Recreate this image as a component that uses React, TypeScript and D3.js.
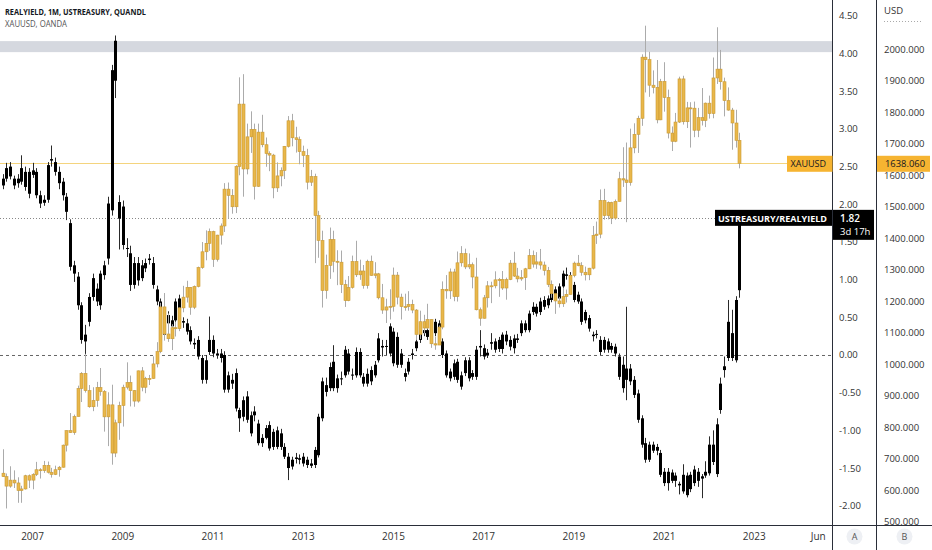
import React, { useEffect } from 'react';
import * as d3 from 'd3';

// first candle month (May 2006), monthly candles
const startYear = 2006;
const startMonth = 5;

// XAUUSD monthly [open, high, low, close]
const goldOHLC: number[][] = [
  // 2006 May-Dec
  [654,730,642,643],[643,653,542,613],[613,676,608,632],[632,663,607,623],[623,641,560,599],[599,614,560,604],[604,649,602,646],[646,650,607,632],
  // 2007
  [632,654,603,650],[650,690,645,665],[665,670,637,662],[662,693,655,679],[679,691,653,657],[657,671,640,650],[650,678,648,665],[665,677,643,673],[673,745,672,743],[743,790,723,789],[789,845,782,783],[783,840,776,834],
  // 2008
  [834,932,834,923],[923,975,880,971],[971,1033,910,916],[916,934,862,865],[865,927,851,885],[885,944,865,926],[926,988,900,913],[913,918,786,833],[833,911,740,871],[871,935,681,718],[718,824,705,814],[814,881,760,869],
  // 2009
  [869,935,802,927],[927,1006,920,942],[942,964,866,916],[916,918,865,883],[883,980,878,979],[979,991,914,927],[927,960,908,955],[955,966,934,955],[955,1025,954,1001],[1001,1070,990,1040],[1040,1195,1035,1182],[1182,1226,1075,1096],
  // 2010
  [1096,1161,1071,1081],[1081,1127,1045,1116],[1116,1135,1088,1113],[1113,1180,1105,1179],[1179,1249,1165,1213],[1213,1265,1196,1244],[1244,1245,1157,1181],[1181,1250,1175,1247],[1247,1310,1244,1307],[1307,1388,1303,1357],[1357,1425,1330,1384],[1384,1431,1360,1421],
  // 2011
  [1421,1424,1309,1333],[1333,1411,1326,1410],[1410,1447,1380,1439],[1439,1575,1420,1556],[1556,1577,1462,1536],[1536,1556,1478,1500],[1500,1632,1480,1628],[1628,1911,1600,1826],[1826,1921,1532,1620],[1620,1764,1603,1722],[1722,1803,1671,1746],[1746,1764,1523,1565],
  // 2012
  [1565,1764,1563,1737],[1737,1792,1689,1697],[1697,1720,1627,1669],[1669,1676,1613,1664],[1664,1668,1527,1560],[1560,1641,1547,1598],[1598,1625,1565,1615],[1615,1693,1588,1692],[1692,1788,1688,1773],[1773,1795,1692,1719],[1719,1754,1672,1713],[1713,1723,1635,1675],
  // 2013
  [1675,1694,1626,1663],[1663,1684,1555,1578],[1578,1617,1566,1596],[1596,1605,1321,1472],[1472,1487,1338,1393],[1393,1424,1180,1234],[1234,1348,1208,1314],[1314,1434,1271,1396],[1396,1424,1292,1327],[1327,1362,1251,1324],[1324,1361,1226,1253],[1253,1268,1182,1202],
  // 2014
  [1202,1280,1200,1244],[1244,1345,1240,1326],[1326,1392,1277,1284],[1284,1332,1268,1296],[1296,1315,1240,1250],[1250,1332,1240,1327],[1327,1345,1281,1282],[1282,1324,1273,1287],[1287,1290,1206,1211],[1211,1255,1160,1172],[1172,1208,1131,1182],[1182,1238,1142,1184],
  // 2015
  [1184,1307,1167,1283],[1283,1293,1190,1213],[1213,1224,1142,1183],[1183,1224,1170,1183],[1183,1232,1170,1190],[1190,1205,1162,1172],[1172,1175,1077,1095],[1095,1170,1080,1135],[1135,1157,1098,1115],[1115,1192,1111,1142],[1142,1143,1052,1065],[1065,1088,1046,1061],
  // 2016
  [1061,1123,1061,1118],[1118,1263,1111,1238],[1238,1283,1208,1233],[1233,1304,1207,1293],[1293,1303,1200,1215],[1215,1358,1199,1322],[1322,1375,1310,1351],[1351,1367,1302,1309],[1309,1352,1302,1316],[1316,1323,1241,1277],[1277,1338,1171,1173],[1173,1180,1122,1146],
  // 2017
  [1146,1220,1145,1211],[1211,1264,1180,1249],[1249,1262,1194,1249],[1249,1295,1241,1268],[1268,1274,1214,1269],[1269,1296,1236,1242],[1242,1275,1205,1269],[1269,1331,1267,1321],[1321,1357,1277,1280],[1280,1306,1260,1271],[1271,1299,1265,1275],[1275,1306,1236,1303],
  // 2018
  [1303,1366,1302,1345],[1345,1361,1307,1318],[1318,1356,1303,1325],[1325,1366,1301,1315],[1315,1326,1282,1298],[1298,1309,1245,1253],[1253,1266,1211,1224],[1224,1224,1160,1201],[1201,1214,1180,1192],[1192,1243,1182,1215],[1215,1237,1196,1222],[1222,1284,1221,1282],
  // 2019
  [1282,1326,1276,1321],[1321,1347,1311,1313],[1313,1324,1281,1292],[1292,1310,1266,1284],[1284,1306,1267,1305],[1305,1439,1301,1409],[1409,1453,1382,1413],[1413,1555,1400,1520],[1520,1557,1459,1472],[1472,1517,1460,1513],[1513,1516,1445,1464],[1464,1523,1459,1517],
  // 2020
  [1517,1611,1517,1589],[1589,1689,1563,1585],[1585,1704,1451,1577],[1577,1748,1567,1687],[1687,1765,1670,1730],[1730,1789,1671,1781],[1781,1984,1757,1975],[1975,2075,1863,1967],[1967,1992,1849,1886],[1886,1933,1860,1879],[1879,1966,1765,1776],[1776,1906,1775,1898],
  // 2021
  [1898,1959,1802,1847],[1847,1872,1717,1734],[1734,1755,1677,1708],[1708,1798,1705,1769],[1769,1913,1766,1906],[1906,1916,1761,1770],[1770,1833,1750,1814],[1814,1832,1688,1813],[1813,1834,1721,1743],[1743,1814,1721,1783],[1783,1877,1758,1774],[1774,1831,1753,1829],
  // 2022 Jan-Sep
  [1829,1853,1780,1796],[1796,1974,1781,1909],[1909,2070,1890,1937],[1937,1998,1872,1897],[1897,1910,1787,1837],[1837,1879,1805,1807],[1807,1814,1681,1766],[1766,1808,1688,1711],[1711,1735,1622,1638.06],
];

// USTREASURY/REALYIELD monthly [open, high, low, close]
const yieldOHLC: number[][] = [
  // 2006 May-Dec
  [2.25,2.40,2.20,2.34],[2.34,2.55,2.30,2.48],[2.50,2.56,2.33,2.37],[2.34,2.38,2.20,2.25],[2.28,2.40,2.22,2.34],[2.30,2.65,2.26,2.48],[2.43,2.50,2.18,2.23],[2.14,2.48,2.08,2.43],
  // 2007
  [2.45,2.55,2.35,2.39],[2.43,2.48,2.08,2.12],[2.12,2.18,1.95,2.01],[2.02,2.12,1.98,2.06],[2.06,2.56,2.02,2.52],[2.58,2.78,2.50,2.60],[2.56,2.62,2.38,2.43],[2.43,2.50,2.20,2.28],[2.30,2.35,2.05,2.12],[2.10,2.15,1.79,1.90],[1.75,1.80,1.12,1.17],[1.19,1.25,0.97,1.08],
  // 2008
  [1.04,1.10,0.60,0.66],[0.66,0.70,0.15,0.20],[0.18,0.40,-0.15,0.27],[0.44,0.82,0.38,0.77],[0.77,1.08,0.72,1.02],[0.88,0.95,0.65,0.71],[0.66,1.12,0.60,1.08],[1.06,1.25,1.00,1.19],[1.28,2.10,1.20,2.01],[1.92,3.85,1.85,3.78],[3.64,4.24,3.41,4.17],[2.03,2.12,1.40,1.81],
  // 2009
  [1.97,2.05,1.40,1.46],[1.41,1.55,1.30,1.42],[1.35,1.45,0.85,0.93],[0.93,1.30,0.88,1.22],[1.22,1.30,0.92,0.99],[1.02,1.26,0.98,1.19],[1.15,1.28,1.10,1.22],[1.26,1.34,1.20,1.28],[1.22,1.30,0.88,0.93],[0.87,0.92,0.66,0.71],[0.71,0.75,0.20,0.24],[0.27,0.66,0.22,0.62],
  // 2010
  [0.53,0.58,0.38,0.42],[0.38,0.52,0.33,0.46],[0.46,0.75,0.42,0.71],[0.75,0.80,0.38,0.42],[0.43,0.50,0.36,0.45],[0.42,0.48,0.27,0.31],[0.33,0.38,0.14,0.18],[0.16,0.22,0.08,0.14],[0.20,0.25,-0.06,-0.02],[-0.04,0.00,-0.38,-0.33],[-0.33,0.00,-0.38,-0.07],[0.04,0.51,0.00,0.20],
  // 2011
  [0.20,0.26,-0.03,0.02],[0.00,0.08,-0.05,0.02],[0.02,0.08,-0.10,-0.04],[0.00,0.05,-0.50,-0.46],[-0.46,-0.22,-0.50,-0.27],[-0.33,-0.25,-0.45,-0.38],[-0.24,-0.18,-0.75,-0.71],[-0.73,-0.70,-1.02,-0.84],[-0.82,-0.55,-0.88,-0.60],[-0.55,-0.48,-0.90,-0.86],[-0.80,-0.75,-1.08,-1.04],[-0.80,-0.68,-0.88,-0.75],
  // 2012
  [-0.91,-0.86,-1.20,-1.17],[-1.17,-1.05,-1.22,-1.10],[-1.10,-0.93,-1.12,-0.97],[-0.93,-0.88,-1.27,-1.24],[-1.22,-0.98,-1.26,-1.02],[-1.00,-0.95,-1.25,-1.22],[-1.04,-0.98,-1.26,-1.22],[-1.22,-1.17,-1.38,-1.35],[-1.35,-1.30,-1.66,-1.50],[-1.48,-1.35,-1.52,-1.39],[-1.38,-1.30,-1.44,-1.36],[-1.37,-1.32,-1.45,-1.39],
  // 2013
  [-1.35,-1.30,-1.48,-1.44],[-1.46,-1.35,-1.50,-1.39],[-1.44,-1.38,-1.50,-1.47],[-1.46,-1.22,-1.50,-1.26],[-1.33,-0.78,-1.36,-0.82],[-0.84,-0.30,-0.88,-0.35],[-0.40,-0.30,-0.55,-0.49],[-0.44,-0.10,-0.48,-0.16],[-0.09,0.13,-0.48,-0.44],[-0.44,-0.26,-0.50,-0.31],[-0.32,-0.22,-0.40,-0.31],[-0.27,0.12,-0.30,0.07],
  // 2014
  [0.02,0.08,-0.26,-0.22],[-0.26,-0.18,-0.33,-0.27],[-0.27,0.10,-0.30,0.04],[0.04,0.09,-0.30,-0.27],[-0.29,-0.24,-0.42,-0.38],[-0.38,-0.18,-0.42,-0.25],[-0.35,-0.15,-0.40,-0.20],[-0.27,-0.08,-0.30,-0.13],[-0.07,0.29,-0.10,0.22],[0.12,0.20,-0.02,0.10],[0.11,0.20,0.00,0.12],[0.02,0.42,-0.02,0.38],
  // 2015
  [0.31,0.36,-0.15,-0.11],[-0.13,0.30,-0.17,0.24],[0.02,0.08,-0.17,-0.13],[-0.24,-0.18,-0.35,-0.29],[-0.22,-0.04,-0.26,-0.09],[0.00,0.08,-0.06,0.02],[0.09,0.24,0.05,0.18],[0.20,0.34,0.16,0.29],[0.29,0.38,0.25,0.33],[0.33,0.42,0.20,0.24],[0.33,0.40,0.29,0.35],[0.29,0.48,0.25,0.44],
  // 2016
  [0.42,0.46,0.14,0.18],[0.18,0.22,-0.04,0.00],[0.02,0.06,-0.30,-0.27],[-0.31,-0.18,-0.35,-0.22],[-0.29,-0.06,-0.33,-0.11],[-0.09,-0.05,-0.37,-0.33],[-0.27,-0.22,-0.46,-0.42],[-0.24,-0.03,-0.28,-0.07],[-0.07,-0.03,-0.35,-0.31],[-0.29,-0.20,-0.33,-0.24],[-0.29,0.12,-0.33,0.07],[0.10,0.33,-0.02,0.12],
  // 2017
  [0.09,0.14,-0.06,-0.02],[0.00,0.08,-0.04,0.03],[0.15,0.29,0.07,0.17],[0.18,0.22,0.03,0.07],[0.20,0.24,0.04,0.08],[0.08,0.30,0.02,0.27],[0.27,0.32,0.13,0.18],[0.20,0.25,0.06,0.11],[0.09,0.27,0.02,0.22],[0.20,0.28,0.16,0.22],[0.29,0.46,0.25,0.42],[0.42,0.46,0.30,0.33],
  // 2018
  [0.33,0.59,0.30,0.55],[0.57,0.70,0.53,0.64],[0.64,0.68,0.51,0.55],[0.57,0.76,0.53,0.71],[0.73,0.78,0.60,0.64],[0.66,0.79,0.62,0.75],[0.73,0.90,0.70,0.86],[0.87,0.91,0.72,0.75],[0.75,0.95,0.72,0.91],[0.91,1.12,0.88,1.08],[1.07,1.16,1.00,1.05],[1.06,1.10,0.93,0.97],
  // 2019
  [0.93,0.97,0.70,0.73],[0.71,0.84,0.68,0.80],[0.71,0.75,0.40,0.44],[0.46,0.60,0.42,0.57],[0.49,0.53,0.31,0.35],[0.27,0.31,0.18,0.25],[0.27,0.33,0.22,0.28],[0.20,0.25,0.00,0.04],[0.07,0.24,0.03,0.20],[0.18,0.22,0.03,0.07],[0.07,0.16,0.03,0.12],[0.11,0.15,-0.02,0.02],
  // 2020
  [-0.02,0.02,-0.33,-0.29],[-0.13,-0.02,-0.50,-0.44],[-0.33,0.64,-0.60,-0.18],[-0.18,-0.12,-0.40,-0.35],[-0.33,-0.28,-0.57,-0.53],[-0.51,-0.46,-0.90,-0.86],[-0.84,-0.80,-1.23,-1.19],[-1.17,-1.10,-1.43,-1.39],[-1.39,-1.15,-1.42,-1.19],[-1.19,-1.15,-1.30,-1.27],[-1.27,-1.18,-1.33,-1.22],[-1.30,-1.26,-1.62,-1.59],
  // 2021
  [-1.55,-1.50,-1.74,-1.70],[-1.70,-1.50,-1.80,-1.55],[-1.56,-1.52,-1.70,-1.67],[-1.67,-1.56,-1.75,-1.60],[-1.71,-1.68,-1.85,-1.73],[-1.81,-1.45,-1.84,-1.59],[-1.60,-1.56,-1.89,-1.86],[-1.78,-1.55,-1.82,-1.59],[-1.70,-1.47,-1.74,-1.52],[-1.55,-1.50,-1.75,-1.67],[-1.61,-1.58,-1.90,-1.64],[-1.60,-1.41,-1.63,-1.55],
  // 2022 Jan-Sep
  [-1.57,-1.08,-1.60,-1.19],[-1.19,-1.00,-1.46,-1.42],[-1.58,-0.84,-1.62,-0.92],[-0.73,-0.30,-0.78,-0.38],[-0.15,-0.02,-0.30,-0.20],[-0.04,0.73,-0.08,0.44],[0.29,0.60,-0.08,-0.04],[-0.07,0.78,-0.10,0.73],[0.86,1.85,0.76,1.82],
];

const yieldTicks = [4.5, 4, 3.5, 3, 2.5, 2, 1.5, 1, 0.5, 0, -0.5, -1, -1.5, -2];
const goldTicks = [2000, 1900, 1800, 1700, 1600, 1500, 1400, 1300, 1200, 1100, 1000, 900, 800, 700, 600, 500];
const timeTickLabels = ['2007', '2009', '2011', '2013', '2015', '2017', '2019', '2021', '2023', 'Jun'];
const timeTickDates = ['2007-01', '2009-01', '2011-01', '2013-01', '2015-01', '2017-01', '2019-01', '2021-01', '2023-01', '2024-06'];
const goldZone = [1991, 2026];
const lastGold = 1638.06;
const lastYield = 1.82;
const countdown = '3d 17h';

const W = 932, H = 550;
const plotRight = 832.5, axisSplit = 876.5, bottomY = 525;
const FONT = "'Open Sans', 'Noto Sans', sans-serif";

// months since Jan 2007
const monthIndex = (s: string) => {
  const [y, m] = s.split('-').map(Number);
  return (y - 2007) * 12 + (m - 1);
};
const startIdx = (startYear - 2007) * 12 + (startMonth - 1);

export default function App() {
  useEffect(() => {
    document.body.style.margin = '0';
  }, []);

  const x = d3.scaleLinear().domain([0, 192]).range([32.6, 754.3]);
  const yY = d3.scaleLinear().domain([-2, 4.5]).range([505.7, 15.9]);
  const yG = d3.scaleLinear().domain([500, 2000]).range([521.7, 49.3]);

  const snap = (v: number) => Math.round(v) + 0.5;

  const candles = (data: number[][], y: d3.ScaleLinear<number, number>, kind: 'gold' | 'black') =>
    data.map((d, i) => {
      const [o, h, l, c] = d;
      const cx = snap(x(startIdx + i));
      const top = y(Math.max(o, c));
      const bot = y(Math.min(o, c));
      const ht = Math.max(1, bot - top);
      if (kind === 'gold') {
        return (
          <g key={i}>
            <line x1={cx} x2={cx} y1={y(h)} y2={y(l)} stroke="#ababab" strokeWidth={1} />
            <rect x={cx - 1.5} y={top} width={3} height={ht} fill="#E9B74A" stroke="#C99A35" strokeWidth={0.6} />
          </g>
        );
      }
      return (
        <g key={i}>
          <line x1={cx} x2={cx} y1={y(h)} y2={y(l)} stroke="#2a2a2a" strokeWidth={1} />
          <rect x={cx - 1.5} y={top} width={3} height={ht} fill="#000" />
        </g>
      );
    });

  const yLast = yY(lastYield);
  const gLast = yG(lastGold);
  const boxTop = yLast - 8, boxH = 30;

  return (
    <svg width={W} height={H} style={{ display: 'block', position: 'absolute', left: 0, top: 0, background: '#fff' }} fontFamily={FONT}>
      <rect x={0} y={0} width={W} height={H} fill="#fff" />
      <defs>
        <clipPath id="plot"><rect x={0} y={0} width={plotRight} height={bottomY} /></clipPath>
        <clipPath id="axisB"><rect x={axisSplit} y={0} width={W - axisSplit} height={bottomY} /></clipPath>
        <clipPath id="axisA">
          <path clipRule="evenodd" d={`M${plotRight},0H${axisSplit}V${bottomY}H${plotRight}Z M${plotRight},${boxTop}H${plotRight + 42}V${boxTop + boxH}H${plotRight}Z`} />
        </clipPath>
      </defs>

      {/* resistance zone */}
      <rect x={0} y={yG(goldZone[1])} width={plotRight} height={yG(goldZone[0]) - yG(goldZone[1])} fill="#d5d8df" />

      {/* zero line */}
      <line x1={0} x2={plotRight} y1={yY(0) + 0.5} y2={yY(0) + 0.5} stroke="#666" strokeWidth={1} strokeDasharray="3,3" />
      {/* last price lines */}
      <line x1={0} x2={787} y1={Math.round(gLast) + 0.5} y2={Math.round(gLast) + 0.5} stroke="#F4D47E" strokeWidth={1} />
      <line x1={0} x2={715} y1={Math.round(yLast) + 0.5} y2={Math.round(yLast) + 0.5} stroke="#888" strokeWidth={1} strokeDasharray="1,2" />

      <g clipPath="url(#plot)">
        {candles(yieldOHLC, yY, 'black')}
        {candles(goldOHLC, yG, 'gold')}
      </g>

      {/* header */}
      <text x={5} y={15} fontSize={9.5} fontWeight={700} fill="#131722" textLength={141} lengthAdjust="spacingAndGlyphs">REALYIELD, 1M, USTREASURY, QUANDL</text>
      <text x={5} y={26.7} fontSize={9.5} fill="#555" textLength={62} lengthAdjust="spacingAndGlyphs">XAUUSD, OANDA</text>

      {/* axis lines */}
      <line x1={plotRight} x2={plotRight} y1={0} y2={H} stroke="#2a2e39" strokeWidth={1} />
      <line x1={axisSplit} x2={axisSplit} y1={0} y2={H} stroke="#2a2e39" strokeWidth={1} />
      <line x1={0} x2={W} y1={bottomY + 0.5} y2={bottomY + 0.5} stroke="#2a2e39" strokeWidth={1} />

      {/* yield axis labels */}
      <g clipPath="url(#axisA)">
        {yieldTicks.map((t) => (
          <text key={t} x={839} y={yY(t) + 3.5} fontSize={9.5} fill="#333">{t.toFixed(2)}</text>
        ))}
      </g>

      {/* gold axis */}
      <text x={884} y={14} fontSize={9.5} fill="#333">USD</text>
      <line x1={884} x2={923} y1={21.5} y2={21.5} stroke="#aaa" strokeWidth={1} strokeDasharray="1,2" />
      <g clipPath="url(#axisB)">
        {goldTicks.map((t) => (
          <text key={t} x={884} y={yG(t) + 3.5} fontSize={9.5} fill="#333">{t.toFixed(3)}</text>
        ))}
      </g>

      {/* time axis */}
      {timeTickLabels.map((lab, i) => (
        <text key={lab} x={x(monthIndex(timeTickDates[i]))} y={540} fontSize={10} fill="#333" textAnchor="middle">{lab}</text>
      ))}

      {/* A / B buttons */}
      <circle cx={854.5} cy={536.5} r={8} fill="#eef0f4" />
      <text x={854.5} y={540} fontSize={9} fill="#555" textAnchor="middle">A</text>
      <circle cx={904.5} cy={536.5} r={8} fill="#eef0f4" />
      <text x={904.5} y={540} fontSize={9} fill="#555" textAnchor="middle">B</text>

      {/* XAUUSD labels */}
      <rect x={787} y={gLast - 7.5} width={plotRight - 787} height={16} fill="#F6B431" />
      <text x={790.5} y={gLast + 3.5} fontSize={9.5} fill="#131722" textLength={35.5} lengthAdjust="spacingAndGlyphs">XAUUSD</text>
      <rect x={axisSplit + 0.5} y={gLast - 7.5} width={W - axisSplit - 2.5} height={16} fill="#F6B431" />
      <text x={885} y={gLast + 3.5} fontSize={9.5} fill="#131722" textLength={40} lengthAdjust="spacingAndGlyphs">{lastGold.toFixed(3)}</text>

      {/* yield labels */}
      <rect x={715} y={boxTop} width={plotRight - 715 - 0.5} height={16} fill="#000" />
      <text x={718} y={yLast + 4.2} fontSize={9.5} fontWeight={700} fill="#fff" textLength={109} lengthAdjust="spacingAndGlyphs">USTREASURY/REALYIELD</text>
      <rect x={plotRight + 0.5} y={boxTop} width={41} height={boxH} fill="#000" />
      <text x={840} y={yLast + 4.2} fontSize={10} fontWeight={600} fill="#fff">{lastYield.toFixed(2)}</text>
      <text x={840} y={yLast + 17.5} fontSize={9.5} fill="#fff">{countdown}</text>
    </svg>
  );
}
